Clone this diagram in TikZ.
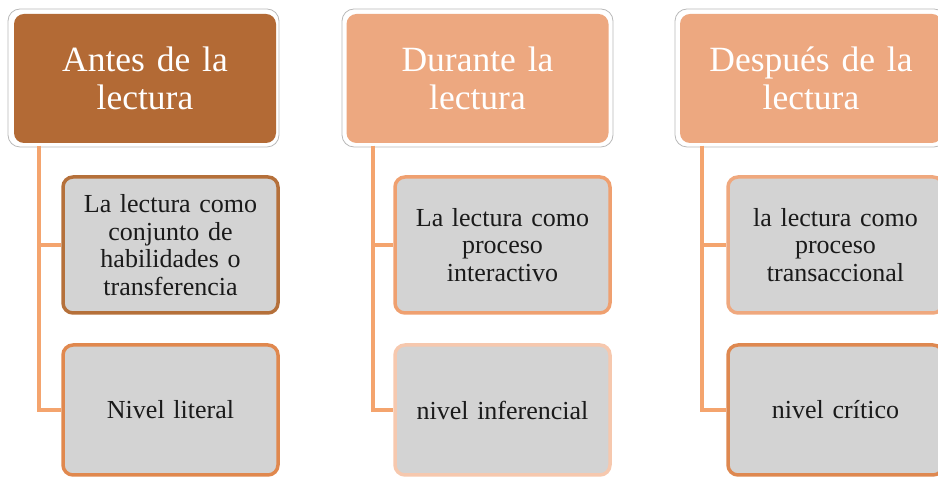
\documentclass[tikz,border=0pt]{standalone}
\usepackage{fontspec}
\setmainfont{Liberation Serif}
\definecolor{hdark}{HTML}{B36A35}
\definecolor{hlight}{HTML}{EDA880}
\definecolor{conn}{HTML}{F4A46E}
\definecolor{cgray}{HTML}{D3D3D3}
\definecolor{bA}{HTML}{B5703A}
\definecolor{bB}{HTML}{E0884E}
\definecolor{bC}{HTML}{EFA070}
\definecolor{bD}{HTML}{F6C8AE}
\definecolor{bE}{HTML}{EFA87E}
\definecolor{bF}{HTML}{DE8850}
\definecolor{txt}{HTML}{1A1A1A}
\begin{document}
\begin{tikzpicture}[x=1pt,y=1pt,
  hout/.style={draw=gray!55, line width=0.8pt, fill=white, rounded corners=12pt, minimum width=271pt, minimum height=138pt, inner sep=0pt},
  hbox/.style={rounded corners=10pt, minimum width=262pt, minimum height=129pt, inner sep=0pt, text=white, align=center, text width=250pt, font=\fontsize{35.5}{38}\selectfont},
  cbox/.style={fill=cgray, line width=3.5pt, rounded corners=10pt, minimum width=215pt, inner sep=0pt, align=center, text width=205pt, text=txt, font=\fontsize{26}{27.5}\selectfont},
  link/.style={draw=conn, line width=4pt}]
\useasboundingbox (0,0) rectangle (938,478);
% column 1
\node[hout] (o1) at (143.5,{478-78}) {};
\node[hbox, fill=hdark] (h1) at (145,{478-78.5}) {Antes de la\\lectura};
\node[cbox, draw=bA, minimum height=136pt] (a1) at (170.5,{478-245}) {La lectura como\\conjunto de\\habilidades o\\transferencia};
\node[cbox, draw=bB, minimum height=130pt] (b1) at (170.5,{478-410}) {Nivel literal};
\coordinate (t1) at (39,{478-146});
\draw[link] (t1) |- (a1.west);
\draw[link] (t1) |- (b1.west);
% column 2
\node[hout] (o2) at (477.5,{478-78}) {};
\node[hbox, fill=hlight] (h2) at (477.5,{478-78.5}) {Durante la\\lectura};
\node[cbox, draw=bC, minimum height=136pt] (a2) at (502.5,{478-245}) {La lectura como\\proceso\\interactivo};
\node[cbox, draw=bD, minimum height=130pt] (b2) at (502.5,{478-410}) {nivel inferencial};
\coordinate (t2) at (373,{478-146});
\draw[link] (t2) |- (a2.west);
\draw[link] (t2) |- (b2.west);
% column 3
\node[hout] (o3) at (810.5,{478-78}) {};
\node[hbox, fill=hlight] (h3) at (811,{478-78.5}) {Después de la\\lectura};
\node[cbox, draw=bE, minimum height=136pt] (a3) at (835.5,{478-245}) {la lectura como\\proceso\\transaccional};
\node[cbox, draw=bF, minimum height=130pt] (b3) at (835.5,{478-410}) {nivel crítico};
\coordinate (t3) at (702,{478-146});
\draw[link] (t3) |- (a3.west);
\draw[link] (t3) |- (b3.west);
\end{tikzpicture}
\end{document}
